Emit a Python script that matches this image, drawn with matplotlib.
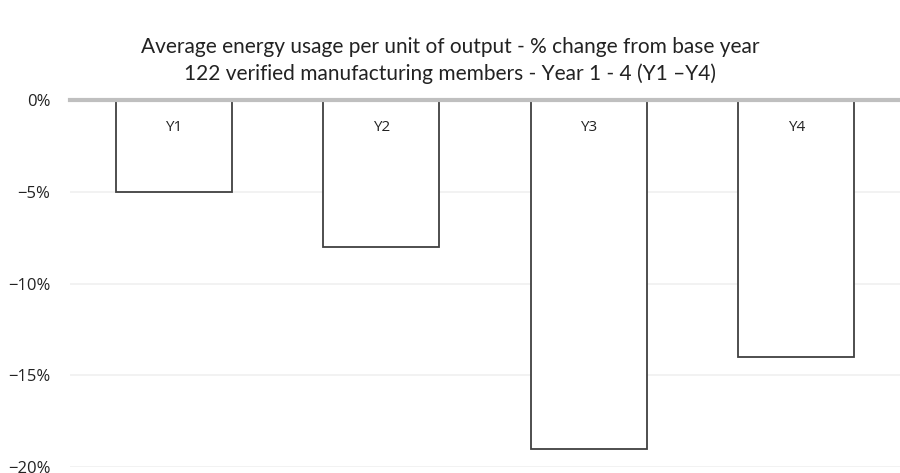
import numpy as np
import matplotlib
matplotlib.use('Agg')
from matplotlib import pyplot as plt
from matplotlib.ticker import PercentFormatter

years = ['Y1', 'Y2', 'Y3', 'Y4']
change = [-5, -8, -19, -14]  # % change from base year
yticks = [0, -5, -10, -15, -20]

plt.rcParams['font.family'] = ['Open Sans', 'DejaVu Sans']

fig = plt.figure(figsize=(9, 4.73), dpi=100)
ax = fig.add_axes([70/900, 1-467/473, 1-70/900, (467-100)/473])

x = np.arange(len(years))
ax.bar(x, change, width=0.557, color='white', edgecolor='#404040', linewidth=1.3, zorder=3)

#labels sit just under the zero line inside each bar
for xi, lbl in zip(x, years):
    ax.text(xi, -1.5, lbl, ha='center', va='center', fontsize=11, color='#222222', zorder=4)

ax.set_xlim(-0.5, len(years) - 0.5)
ax.set_ylim(-20, 0)
ax.set_yticks(yticks)
ax.yaxis.set_major_formatter(PercentFormatter(decimals=0))
ax.set_xticks([])
ax.tick_params(axis='y', length=0, pad=14, labelsize=12, labelcolor='#222222')
ax.grid(axis='y', color='#f0f0f0', linewidth=1.2, zorder=0)
ax.axhline(0, color='#bfbfbf', linewidth=3, zorder=5, clip_on=False)
for s in ax.spines.values():
    s.set_visible(False)

fig.text(0.5, 1-47/473, 'Average energy usage per unit of output - % change from base year',
         ha='center', va='center', fontsize=15, family=['Lato', 'DejaVu Sans'], color='#222222')
fig.text(0.5, 1-74/473, '122 verified manufacturing members - Year 1 - 4 (Y1 \u2013Y4)',
         ha='center', va='center', fontsize=15, family=['Lato', 'DejaVu Sans'], color='#222222')

fig.savefig('out.png', dpi=100)
